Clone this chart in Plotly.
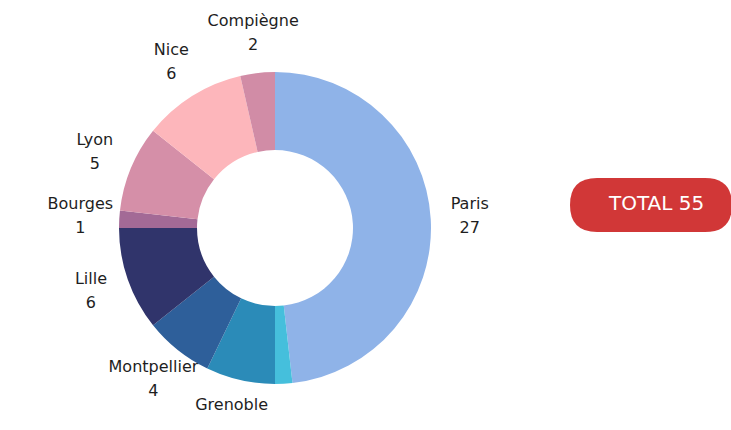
import numpy as np
import plotly.graph_objects as go

W, H = 731, 430

cities = ["Paris", "Autre", "Grenoble", "Montpellier", "Lille", "Bourges", "Lyon", "Nice", "Compiègne"]
counts = [27, 1, 4, 4, 6, 1, 5, 6, 2]
show_label = [True, False, True, True, True, True, True, True, True]
colors = ["#8fb3e8", "#45bfdc", "#2b8bb8", "#2e5f9a", "#30346b", "#a36a96", "#d58fa8", "#fdb6bb", "#d18ca6"]
total_text = "TOTAL 55"

FONT = "DejaVu Sans, Open Sans, sans-serif"
PAD = 40  # axis range padding so edge labels are not hidden

def px(x, y):
    """screen pixel -> paper coords"""
    return x / W, 1 - y / H

def sy(s):
    """screen pixel y -> data y of the overlay axis"""
    return s * (H + 2 * PAD) / H - PAD

cx, cy, r = 275, 228, 156
x0, y1 = px(cx - r, cy - r)
x1, y0 = px(cx + r, cy + r)

fig = go.Figure(go.Pie(
    labels=cities,
    values=counts,
    textinfo="none",
    hole=0.5,
    sort=False,
    direction="clockwise",
    rotation=0,
    marker=dict(colors=colors, line=dict(width=0)),
    domain=dict(x=[x0, x1], y=[y0, y1]),
    showlegend=False,
    hoverinfo="label+value",
))

# outside labels, placed at each slice's mid-angle (computed from the data)
vals = np.array(counts, dtype=float)
mid = (np.cumsum(vals) - vals / 2) / vals.sum() * 2 * np.pi
R_LAB = 195
lx = cx + R_LAB * np.sin(mid)
ly = cy - R_LAB * np.cos(mid)
mask = np.array(show_label)
names = [c for c, s in zip(cities, show_label) if s]
nums = [str(v) for v, s in zip(counts, show_label) if s]

fig.add_trace(go.Scatter(x=lx[mask], y=sy(ly[mask] - 12), mode="text", text=names,
                         textfont=dict(family=FONT, size=16, color="#1e1e1e"),
                         hoverinfo="skip", showlegend=False, cliponaxis=False))
fig.add_trace(go.Scatter(x=lx[mask], y=sy(ly[mask] + 12), mode="text", text=nums,
                         textfont=dict(family=FONT, size=16, color="#1e1e1e"),
                         hoverinfo="skip", showlegend=False, cliponaxis=False))

# rounded pill badge
L, Rr, T, B = 570, 732, 178, 232
rad = (B - T) / 2
def P(x, y):
    a, b = px(x, y)
    return f"{a:.5f},{b:.5f}"
path = (f"M {P(L+rad, T)} L {P(Rr-rad, T)} Q {P(Rr, T)} {P(Rr, T+rad)} "
        f"Q {P(Rr, B)} {P(Rr-rad, B)} L {P(L+rad, B)} Q {P(L, B)} {P(L, B-rad)} "
        f"Q {P(L, T)} {P(L+rad, T)} Z")
fig.add_shape(type="path", path=path, xref="paper", yref="paper",
              fillcolor="#d13737", line=dict(width=0), layer="below")
tx, ty = px(656, 203)
fig.add_annotation(x=tx, y=ty, xref="paper", yref="paper", text=total_text,
                   xanchor="center", yanchor="middle",
                   showarrow=False, font=dict(family=FONT, size=20, color="white"))

fig.update_layout(
    width=W, height=H,
    margin=dict(l=0, r=0, t=0, b=0),
    paper_bgcolor="white", plot_bgcolor="rgba(0,0,0,0)",
    xaxis=dict(range=[0, W], domain=[0, 1], visible=False, fixedrange=True),
    yaxis=dict(range=[H + PAD, -PAD], domain=[0, 1], visible=False, fixedrange=True),
)
fig.write_html(
    "out.html",
    config={"displayModeBar": False},
    post_script="document.body.style.margin='0';document.body.style.overflow='hidden';",
)
